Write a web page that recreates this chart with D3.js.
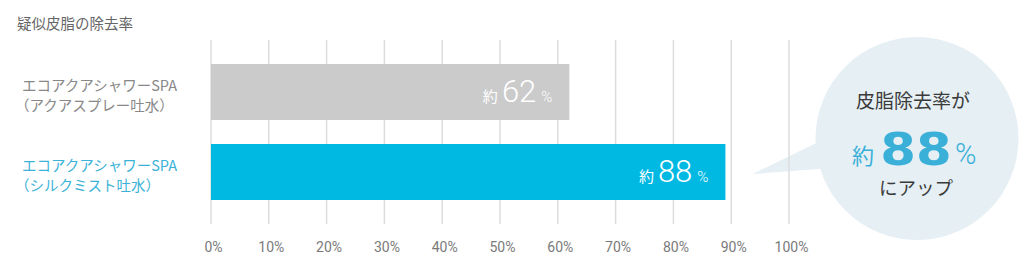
<!DOCTYPE html>
<html><head><meta charset="utf-8">
<script src="https://cdn.jsdelivr.net/npm/d3@7"></script>
<style>
html,body{margin:0;padding:0;background:#fff;}
svg{display:block;}
</style></head>
<body>
<svg id="chart" width="1024" height="270"></svg>
<script>
const title = "疑似皮脂の除去率";
const categories = ["aqua", "silk"];
const categoryLine1 = ["エコアクアシャワーSPA", "エコアクアシャワーSPA"];
const categoryLine2 = ["（アクアスプレー吐水）", "（シルクミスト吐水）"];
const values = [62, 89];
const valueLabels = ["62", "88"];
const tickValues = [0, 10, 20, 30, 40, 50, 60, 70, 80, 90, 100];
const tickLabels = ["0%", "10%", "20%", "30%", "40%", "50%", "60%", "70%", "80%", "90%", "100%"];
const bubbleLines = ["皮脂除去率が", "約", "88", "%", "にアップ"];

const barColors = ["#cbcbcb", "#00b9e3"];
const labelColors = ["#888888", "#3bb2d7"];
const CJK = "'Noto Sans CJK JP', 'Noto Sans', sans-serif";

const svg = d3.select("#chart");
const x = d3.scaleLinear().domain([0, 100]).range([211, 789]);
const y = d3.scaleBand().domain(categories).range([40, 224]).paddingInner(0.3).paddingOuter(0.3);

// title
svg.append("text").attr("x", 17).attr("y", 29)
  .attr("font-family", CJK).attr("font-size", 14.5).attr("fill", "#666")
  .text(title);

// bubble
const bx = 917, by = 138.5, br = 101.5;
const bubble = svg.append("g");
bubble.append("path")
  .attr("d", d3.line()([[753, 174], [845, 129], [845, 167]]) + "Z")
  .attr("fill", "#e5eff4");
bubble.append("circle").attr("cx", bx).attr("cy", by).attr("r", br).attr("fill", "#e5eff4");

// gridlines
svg.append("g").selectAll("line").data(tickValues).join("line")
  .attr("x1", d => x(d)).attr("x2", d => x(d))
  .attr("y1", 40).attr("y2", 224)
  .attr("stroke", "#dcdcdc").attr("stroke-width", 1.5);

// tick labels
svg.append("g").selectAll("text").data(tickValues).join("text")
  .attr("x", d => x(d) + 2.5).attr("y", 252)
  .attr("text-anchor", "middle")
  .attr("font-family", "Roboto, sans-serif").attr("font-size", 14).attr("fill", "#7a7a7a")
  .text((d, i) => tickLabels[i]);

// bars
svg.append("g").selectAll("rect").data(categories).join("rect")
  .attr("x", x(0)).attr("y", d => y(d))
  .attr("width", (d, i) => x(values[i]) - x(0))
  .attr("height", y.bandwidth())
  .attr("fill", (d, i) => barColors[i]);

// category labels
const cl = svg.append("g").selectAll("g").data(categories).join("g");
cl.append("text")
  .attr("x", 22).attr("y", d => y(d) + y.bandwidth() / 2 - 1)
  .attr("font-family", CJK).attr("font-size", 14.5)
  .attr("fill", (d, i) => labelColors[i])
  .text((d, i) => categoryLine1[i]);
cl.append("text")
  .attr("x", 15).attr("y", d => y(d) + y.bandwidth() / 2 + 18.5)
  .attr("font-family", CJK).attr("font-size", 14.5)
  .attr("fill", (d, i) => labelColors[i])
  .text((d, i) => categoryLine2[i]);

// value labels inside bars
const vl = svg.append("g").selectAll("text").data(categories).join("text")
  .attr("x", (d, i) => x(values[i]) - 17)
  .attr("y", d => y(d) + y.bandwidth() / 2 + 10)
  .attr("text-anchor", "end")
  .attr("fill", "#fff");
vl.append("tspan").attr("font-family", CJK).attr("font-size", 15).text("約");
vl.append("tspan").attr("dx", 4).attr("font-family", "Roboto, sans-serif").attr("font-weight", 300)
  .attr("font-size", 31).text((d, i) => valueLabels[i]);
vl.append("tspan").attr("dx", 5).attr("font-family", "Roboto, sans-serif").attr("font-weight", 300)
  .attr("font-size", 15).text("%");

// bubble text
bubble.append("text").attr("x", bx - 4).attr("y", 108).attr("text-anchor", "middle")
  .attr("font-family", CJK).attr("font-size", 19).attr("fill", "#3a3a3a")
  .text(bubbleLines[0]);
bubble.append("text").attr("x", bx - 54).attr("y", 164).attr("text-anchor", "middle")
  .attr("font-family", CJK).attr("font-size", 22).attr("fill", "#3aafd8")
  .text(bubbleLines[1]);
bubble.append("text")
  .attr("transform", `translate(${bx - 1},165) scale(1.14,1)`)
  .attr("text-anchor", "middle")
  .attr("font-family", "'DejaVu Sans', sans-serif").attr("font-weight", 700).attr("font-size", 45)
  .attr("fill", "#3aafd8").text(bubbleLines[2]);
bubble.append("text").attr("x", bx + 38).attr("y", 164)
  .attr("font-family", "Roboto, sans-serif").attr("font-weight", 300).attr("font-size", 29)
  .attr("fill", "#3aafd8").text(bubbleLines[3]);
bubble.append("text").attr("x", bx - 1).attr("y", 195).attr("text-anchor", "middle")
  .attr("font-family", CJK).attr("font-size", 18.5).attr("fill", "#3a3a3a")
  .text(bubbleLines[4]);
</script>
</body></html>
